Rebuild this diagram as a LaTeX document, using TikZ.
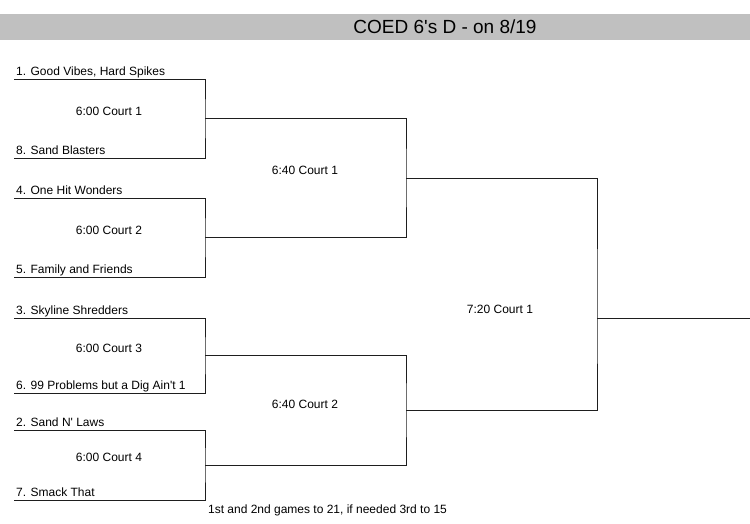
\documentclass[tikz,border=0pt]{standalone}
\usepackage{fontspec}
\setmainfont{Liberation Sans}
\usetikzlibrary{calc}
\definecolor{balken}{RGB}{192,192,192}
\definecolor{linie}{RGB}{30,30,30}

\begin{document}
\begin{tikzpicture}[x=1pt, y=-1pt, font=\fontsize{12}{14}\selectfont,
    team/.style={anchor=base west, inner sep=0pt},
    spiel/.style={inner sep=0pt},
    klammer/.style={linie, line width=0.9pt}]

    \useasboundingbox (0,0) rectangle (750,523);

    % title bar
    \fill[balken] (0,14) rectangle (750,40);
    \node[spiel, font=\fontsize{19}{21}\selectfont] (titel) at (445,27) {COED 6\textquotesingle s D - on 8/19};

    % slots of the first round
    \coordinate (s1) at (14,79);
    \coordinate (s8) at (14,158);
    \coordinate (s4) at (14,198);
    \coordinate (s5) at (14,277);
    \coordinate (s3) at (14,318);
    \coordinate (s6) at (14,393);
    \coordinate (s2) at (14,430);
    \coordinate (s7) at (14,500);

    % winners
    \coordinate (w1) at (205,118.5);
    \coordinate (w2) at (205,237.5);
    \coordinate (w3) at (205,355.5);
    \coordinate (w4) at (205,465);
    \coordinate (w5) at (406,178);
    \coordinate (w6) at (406,410);
    \coordinate (w7) at (597,318);
    \coordinate (sieger) at (750,318);

    \draw[klammer] (s1) -| (w1) |- (s8);
    \draw[klammer] (s4) -| (w2) |- (s5);
    \draw[klammer] (s3) -| (w3) |- (s6);
    \draw[klammer] (s2) -| (w4) |- (s7);
    \draw[klammer] (w1) -| (w5) |- (w2);
    \draw[klammer] (w3) -| (w6) |- (w4);
    \draw[klammer] (w5) -| (w7) |- (w6);
    \draw[klammer] (w7) -- (sieger);

    % teams
    \node[team] (t1) at (16,75.5) {1. Good Vibes, Hard Spikes};
    \node[team] (t8) at (16,154.5) {8. Sand Blasters};
    \node[team] (t4) at (16,194.5) {4. One Hit Wonders};
    \node[team] (t5) at (16,273.5) {5. Family and Friends};
    \node[team] (t3) at (16,314.5) {3. Skyline Shredders};
    \node[team] (t6) at (16,389.5) {6. 99 Problems but a Dig Ain\textquotesingle t 1};
    \node[team] (t2) at (16,426.5) {2. Sand N\textquotesingle\ Laws};
    \node[team] (t7) at (16,496.5) {7. Smack That};

    % games
    \node[spiel] (g1) at (109,111) {6:00 Court 1};
    \node[spiel] (g2) at (109,230) {6:00 Court 2};
    \node[spiel] (g3) at (109,348) {6:00 Court 3};
    \node[spiel] (g4) at (109,457) {6:00 Court 4};
    \node[spiel] (g5) at (305,170) {6:40 Court 1};
    \node[spiel] (g6) at (305,404) {6:40 Court 2};
    \node[spiel] (g7) at (500,309) {7:20 Court 1};

    \node[spiel] (hinweis) at (327.5,510) {1st and 2nd games to 21, if needed 3rd to 15};

\end{tikzpicture}
\end{document}
